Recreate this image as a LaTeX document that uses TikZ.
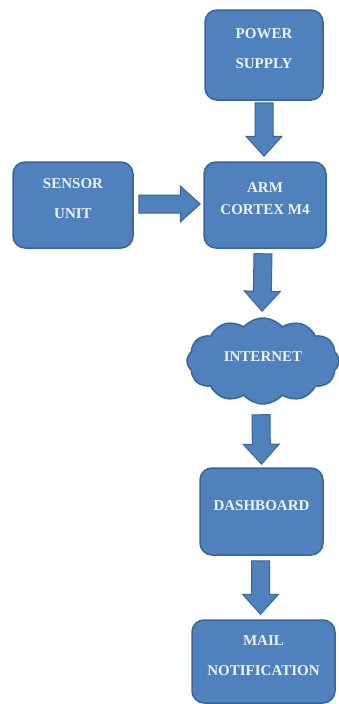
\documentclass[tikz,border=0pt]{standalone}
\usepackage{fontspec}
\setmainfont{Liberation Serif}
\usetikzlibrary{calc,shapes.symbols}
\definecolor{boxfill}{HTML}{4F81BD}
\definecolor{boxline}{HTML}{3A6594}
\definecolor{boxtext}{HTML}{EEF2F8}
\tikzset{
  block/.style={draw=boxline, fill=boxfill, line width=1.5pt, rounded corners=12pt,
    text=boxtext, align=center, text depth=12pt,
    font=\fontsize{15}{30}\selectfont\bfseries},
  arrowbody/.style={draw=boxline, fill=boxfill, line width=1pt, line join=miter}
}
% block arrow between two named points
\newcommand{\bigarrow}[2]{%
  \coordinate (hb) at ($(#2)!20pt!(#1)$);
  \draw[arrowbody] ($(#1)!9pt!90:(#2)$) -- ($(hb)!9pt!90:(#2)$) -- ($(hb)!18pt!90:(#2)$)
    -- (#2) -- ($(hb)!18pt!-90:(#2)$) -- ($(hb)!9pt!-90:(#2)$) -- ($(#1)!9pt!-90:(#2)$) -- cycle;}
\begin{document}
\begin{tikzpicture}[x=1pt,y=-1pt]
    \useasboundingbox (0,0) rectangle (339,704);
    % Boxes
    \node[block, minimum width=118pt, minimum height=90pt] (power) at (264,55) {POWER\\SUPPLY};
    \node[block, minimum width=120pt, minimum height=86pt] (sensor) at (73,205) {SENSOR\\UNIT};
    \node[block, minimum width=122pt, minimum height=86pt, font=\fontsize{15}{22}\selectfont\bfseries] (arm) at (265,205) {ARM\\CORTEX M4};
    \node[cloud, cloud puffs=12, cloud puff arc=100, aspect=1.8, draw=boxline, fill=boxfill, line width=1.5pt,
      text=boxtext, font=\fontsize{15}{18}\selectfont\bfseries, minimum width=152pt, minimum height=86pt,
      inner sep=0pt, text depth=8pt] (internet) at (263,361) {INTERNET};
    \node[block, minimum width=123pt, minimum height=87pt] (dash) at (261.5,511.5) {DASHBOARD};
    \node[block, minimum width=143pt, minimum height=83pt] (mail) at (263.5,661.5) {MAIL\\NOTIFICATION};
    % Arrow ends
    \coordinate (p1) at ([yshift=-2pt]power.south);
    \coordinate (p2) at ([xshift=-1pt,yshift=5pt]arm.north);
    \coordinate (s1) at ([xshift=5pt,yshift=1pt]sensor.east);
    \coordinate (s2) at ([xshift=-3pt,yshift=1pt]arm.west);
    \coordinate (a1) at ([xshift=-2pt,yshift=-5pt]arm.south);
    \coordinate (a2) at ([xshift=-1pt,yshift=6pt]internet.north);
    \coordinate (i1) at ([xshift=-2pt,yshift=-10pt]internet.south);
    \coordinate (i2) at ([yshift=3pt]dash.north);
    \coordinate (d1) at ([xshift=-1pt,yshift=-5pt]dash.south);
    \coordinate (d2) at ([xshift=-3pt,yshift=5pt]mail.north);
    % Arrows
    \bigarrow{p1}{p2}
    \bigarrow{s1}{s2}
    \bigarrow{a1}{a2}
    \bigarrow{i1}{i2}
    \bigarrow{d1}{d2}
\end{tikzpicture}
\end{document}
